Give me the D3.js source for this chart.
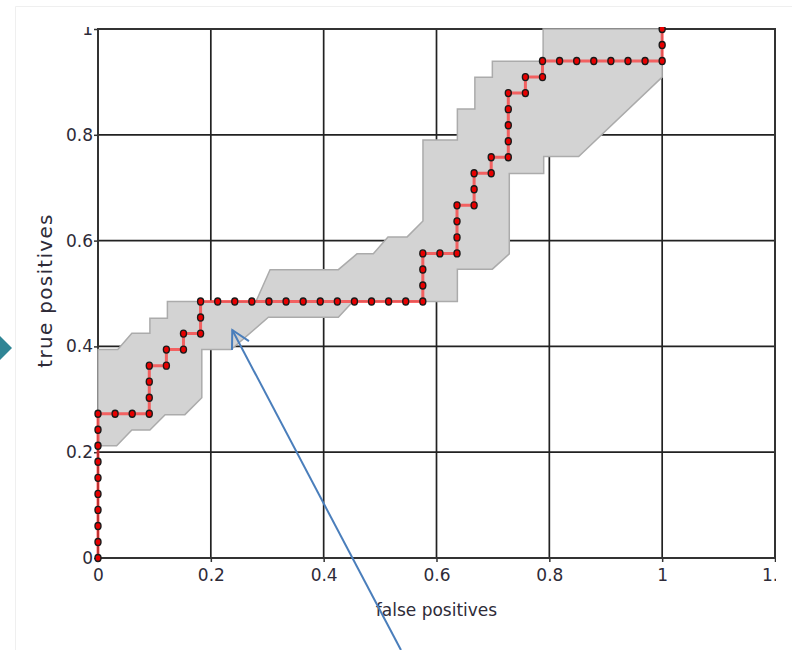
<!DOCTYPE html>
<html>
<head>
<meta charset="utf-8">
<script src="https://cdn.jsdelivr.net/npm/d3@7"></script>
<style>
  html, body { margin: 0; padding: 0; background: #fff; }
  svg { display: block; }
  text { font-family: "DejaVu Sans", Verdana, sans-serif; fill: #2e2b38; }
</style>
</head>
<body>
<svg id="chart" width="792" height="650"></svg>
<script>
// ROC curve: counts of false / true positives at each threshold (33 negatives, 33 positives)
const nNeg = 33;
const nPos = 33;
const fpCount = [0,0,0,0,0,0,0,0,0,0, 1,2,3,3,3,3, 4,4,5,5,6,6,6,
  7,8,9,10,11,12,13,14,15,16,17,18,19,
  19,19,19,20,21,21,21,21,22,22,22,23,23,24,24,24,24,24,25,25,26,26,
  27,28,29,30,31,32,33, 33,33];
const tpCount = [0,1,2,3,4,5,6,7,8,9, 9,9,9,10,11,12, 12,13,13,14,14,15,16,
  16,16,16,16,16,16,16,16,16,16,16,16,16,
  17,18,19,19,19,20,21,22,22,23,24,24,25,25,26,27,28,29,29,30,30,31,
  31,31,31,31,31,31,31, 32,33];

// confidence band outline (upper edge left->right, lower edge right->left)
const upperX = [0, 0.035, 0.060, 0.092, 0.092, 0.123, 0.123, 0.280, 0.305, 0.426, 0.459, 0.488, 0.514, 0.548, 0.576, 0.576, 0.637, 0.637, 0.668, 0.668, 0.699, 0.699, 0.789, 0.789, 1.0];
const upperY = [0.394, 0.394, 0.425, 0.425, 0.453, 0.453, 0.485, 0.485, 0.545, 0.545, 0.575, 0.575, 0.607, 0.607, 0.637, 0.790, 0.790, 0.849, 0.849, 0.909, 0.909, 0.939, 0.939, 1.0, 1.0];
const lowerX = [1.0, 1.0, 0.852, 0.790, 0.790, 0.729, 0.729, 0.699, 0.637, 0.637, 0.452, 0.426, 0.302, 0.236, 0.184, 0.184, 0.154, 0.119, 0.092, 0.060, 0.033, 0];
const lowerY = [1.0, 0.909, 0.759, 0.759, 0.727, 0.727, 0.575, 0.546, 0.546, 0.485, 0.485, 0.455, 0.455, 0.394, 0.394, 0.303, 0.271, 0.271, 0.242, 0.242, 0.212, 0.212];

const xTicks = [0, 0.2, 0.4, 0.6, 0.8, 1, 1.2];
const yTicks = [0, 0.2, 0.4, 0.6, 0.8, 1];
const xTitle = 'false positives';
const yTitle = 'true positives';

// annotation arrow (in data units): tail below the axis, tip inside the band
const arrowTail = [0.537, -0.174];
const arrowTip = [0.238, 0.431];

const svg = d3.select('#chart');
const plotLeft = 98, plotRight = 775, plotTop = 29, plotBottom = 558;

const x = d3.scaleLinear().domain([0, 1.2]).range([plotLeft, plotRight]);
const y = d3.scaleLinear().domain([0, 1]).range([plotBottom, plotTop]);

// faint frame of the screenshot
svg.append('path')
  .attr('d', 'M15.5,650V6.5H792')
  .attr('fill', 'none')
  .attr('stroke', '#efefef');

svg.append('defs').append('clipPath').attr('id', 'clip')
  .append('rect').attr('x', 16).attr('y', 27).attr('width', 760).attr('height', 623);

const g = svg.append('g').attr('clip-path', 'url(#clip)');

// grid
g.append('g')
  .selectAll('line')
  .data(xTicks)
  .enter()
  .append('line')
  .attr('x1', d => x(d)).attr('x2', d => x(d))
  .attr('y1', plotTop).attr('y2', plotBottom)
  .attr('stroke', '#222').attr('stroke-width', 1.7);

g.append('g')
  .selectAll('line')
  .data(yTicks)
  .enter()
  .append('line')
  .attr('x1', plotLeft).attr('x2', plotRight)
  .attr('y1', d => y(d)).attr('y2', d => y(d))
  .attr('stroke', '#222').attr('stroke-width', 1.7);

g.append('rect')
  .attr('x', plotLeft).attr('y', plotTop)
  .attr('width', plotRight - plotLeft).attr('height', plotBottom - plotTop)
  .attr('fill', 'none').attr('stroke', '#333').attr('stroke-width', 2);

// axes (small ticks + labels)
const xAxis = d3.axisBottom(x).tickValues(xTicks).tickFormat(d => String(d)).tickSize(4).tickPadding(7);
const yAxis = d3.axisLeft(y).tickValues(yTicks).tickFormat(d => String(d)).tickSize(4).tickPadding(1);

const gx = g.append('g').attr('transform', `translate(0,${plotBottom})`).call(xAxis);
const gy = g.append('g').attr('transform', `translate(${plotLeft},0)`).call(yAxis);
[gx, gy].forEach(a => {
  a.select('.domain').remove();
  a.selectAll('.tick line').attr('stroke', '#333').attr('stroke-width', 1.5);
  a.selectAll('.tick text')
    .style('font-family', '"DejaVu Sans", Verdana, sans-serif')
    .style('font-size', '17px')
    .attr('fill', '#2e2b38');
});

// confidence band
const bandPts = upperX.map((d, i) => [x(d), y(upperY[i])])
  .concat(lowerX.map((d, i) => [x(d), y(lowerY[i])]));

g.append('path')
  .attr('d', d3.line()(bandPts) + 'Z')
  .attr('fill', '#d3d3d3')
  .attr('stroke', '#ababab')
  .attr('stroke-width', 1.5);

// ROC curve
const roc = fpCount.map((c, i) => ({ fpr: c / nNeg, tpr: tpCount[i] / nPos }));

g.append('path')
  .datum(roc)
  .attr('d', d3.line().x(d => x(d.fpr)).y(d => y(d.tpr)))
  .attr('fill', 'none')
  .attr('stroke', '#ff3030')
  .attr('stroke-opacity', 0.7)
  .attr('stroke-width', 3);

g.append('g')
  .selectAll('ellipse')
  .data(roc)
  .enter()
  .append('ellipse')
  .attr('cx', d => x(d.fpr))
  .attr('cy', d => y(d.tpr))
  .attr('rx', 3)
  .attr('ry', 3.5)
  .attr('fill', '#e80000')
  .attr('stroke', '#1a1a1a')
  .attr('stroke-width', 1.4);

// axis titles
svg.append('text')
  .attr('x', (plotLeft + plotRight) / 2)
  .attr('y', 616)
  .attr('text-anchor', 'middle')
  .style('font-size', '17px')
  .text(xTitle);

svg.append('text')
  .attr('transform', `translate(52,${(plotTop + plotBottom) / 2 - 3}) rotate(-90)`)
  .attr('text-anchor', 'middle')
  .style('font-size', '20px')
  .style('letter-spacing', '1.3px')
  .text(yTitle);

// left slide bullet (partly off page)
svg.append('path')
  .attr('d', 'M-12,348L0,336L12,348L0,360Z')
  .attr('fill', '#2f8595');

// annotation arrow
const tail = [x(arrowTail[0]), y(arrowTail[1])];
const tip = [x(arrowTip[0]), y(arrowTip[1])];
const ang = Math.atan2(tail[1] - tip[1], tail[0] - tip[0]);
const headLen = 20, spread = 0.5;
svg.append('line')
  .attr('x1', tail[0]).attr('y1', tail[1])
  .attr('x2', tip[0]).attr('y2', tip[1])
  .attr('stroke', '#4a7ebb').attr('stroke-width', 2);
svg.append('path')
  .attr('d', d3.line()([
    [tip[0] + headLen * Math.cos(ang - spread), tip[1] + headLen * Math.sin(ang - spread)],
    tip,
    [tip[0] + headLen * Math.cos(ang + spread), tip[1] + headLen * Math.sin(ang + spread)]
  ]))
  .attr('fill', 'none')
  .attr('stroke', '#4a7ebb').attr('stroke-width', 2);
</script>
</body>
</html>
